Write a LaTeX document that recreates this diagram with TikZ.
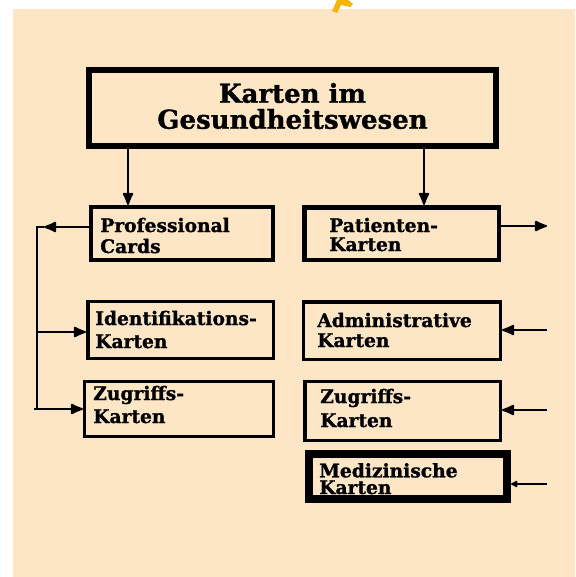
\documentclass[tikz,border=0pt]{standalone}
\usepackage{fontspec}
\setmainfont{DejaVu Serif}[FakeBold=1.2]
\usetikzlibrary{arrows.meta}
\definecolor{beige}{RGB}{253,230,198}
\definecolor{gold}{RGB}{245,180,10}
\begin{document}
\begin{tikzpicture}[x=0.75pt,y=-0.75pt,
  box/.style={draw=black,rectangle,inner sep=0pt},
  lbl/.style={anchor=base west,align=left,inner sep=0pt,font=\bfseries\fontsize{14}{#1}\selectfont},
  conn/.style={line width=1.4pt},
  tip/.style={-{Latex[length=11pt,width=9pt,round]}}]
\useasboundingbox (0,0) rectangle (575,577);
\fill[white] (0,0) rectangle (575,577);
\fill[beige] (13,9) rectangle (575,577);
\fill[gold] (332,11) -- (337,13) -- (341,5) -- (350,7) -- (353,4) -- (348,0) -- (337,0) -- cycle;

% boxes
\node[box,line width=4.5pt,minimum width=305.25pt,minimum height=57pt] (main) at (292.5,108) {};
\node[box,line width=3pt,minimum width=136.5pt,minimum height=39.75pt] (prof) at (182,233.5) {};
\node[box,line width=2.6pt,minimum width=139.1pt,minimum height=42.4pt] (ident) at (180.5,330) {};
\node[box,line width=2.6pt,minimum width=141.4pt,minimum height=40.9pt] (zugL) at (179,409) {};
\node[box,line width=3.4pt,minimum width=145.9pt,minimum height=39.4pt] (pat) at (401.5,233.5) {};
\node[box,line width=2.6pt,minimum width=147.4pt,minimum height=43.1pt] (adm) at (402,330.5) {};
\node[box,line width=2.6pt,minimum width=146.6pt,minimum height=43.9pt] (zugR) at (402.5,411) {};
\node[box,line width=6pt,minimum width=148.5pt,minimum height=33.75pt] (med) at (408,476.5) {};

% texts (anchor = baseline of last line)
\node[font=\bfseries\fontsize{19.5}{19.5}\selectfont,align=center,inner sep=0pt] (title) at (292.5,106) {Karten im\\Gesundheitswesen};
\node[lbl=15.75] (tprof) at (100,253) {Professional\\Cards};
\node[lbl=17.25] (tident) at (95,348) {Identifikations-\\Karten};
\node[lbl=17.25] (tzugL) at (93,423) {Zugriffs-\\Karten};
\node[lbl=14.25] (tpat) at (329,251) {Patienten-\\Karten};
\node[lbl=15] (tadm) at (317,347) {Administrative\\Karten};
\node[lbl=18] (tzugR) at (320,427) {Zugriffs-\\Karten};
\node[lbl=12.5] (tmed) at (319,494) {Medizinische\\Karten};

% stems
\coordinate (sL) at (128,0);
\coordinate (sR) at (424,0);
\draw[conn,tip] (main.south -| sL) -- (prof.north -| sL);
\draw[conn,tip] (main.south -| sR) -- (pat.north -| sR);

% left bus
\coordinate (bTop) at (37,227);
\coordinate (bBot) at (37,409);
\coordinate (pTip) at (44,227);
\coordinate (iy) at (37,332);
\coordinate (zy) at (34,409);
\draw[conn,tip] (prof.west |- bTop) -- (pTip);
\draw[conn] (pTip) -- (bTop) -- (bBot);
\draw[conn,tip] (iy) -- (ident.west |- iy);
\draw[conn,tip] (zy) -- (zugL.west |- zy);

% right side
\coordinate (pe) at (547,226);
\coordinate (ae) at (547,330);
\coordinate (ze) at (547,410);
\coordinate (me) at (547,484);
\draw[conn,tip] (pat.east |- pe) -- (pe);
\draw[conn,tip] (ae) -- (adm.east |- ae);
\draw[conn,tip] (ze) -- (zugR.east |- ze);
\draw[line width=2.2pt,-{Latex[length=6pt,width=6pt,round]}] (me) -- (med.east |- me);
\end{tikzpicture}
\end{document}
